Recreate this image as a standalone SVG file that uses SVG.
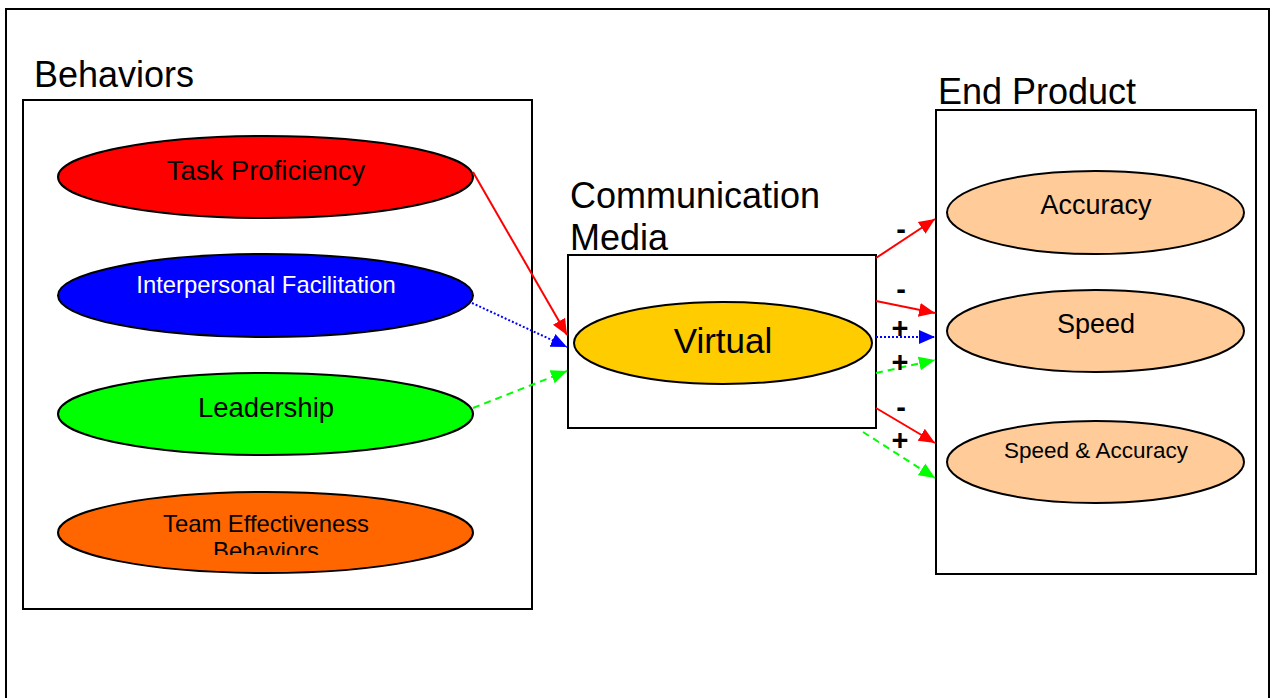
<svg xmlns="http://www.w3.org/2000/svg" width="1273" height="698" viewBox="0 0 1273 698">
<style>
text{font-family:"Liberation Sans",Arial,sans-serif;fill:#000}
.box{fill:#fff;stroke:#000;stroke-width:2}
.el{stroke:#000;stroke-width:2}
.head{font-size:36px}
.c{text-anchor:middle}
.sign{font-size:29px;font-weight:bold;text-anchor:middle}
.red{stroke:#ff0000;stroke-width:2;fill:none}
.blue{stroke:#0000ff;stroke-width:2;fill:none;stroke-dasharray:2 2}
.green{stroke:#00ff00;stroke-width:2;fill:none;stroke-dasharray:7 5}
</style>
<defs>
<marker id="ab" viewBox="0 0 16 16" refX="16" refY="8" markerWidth="16" markerHeight="16" markerUnits="userSpaceOnUse" orient="auto"><path d="M0,1 L16,8 L0,15 z" fill="#0000ff"/></marker>
<marker id="ag" viewBox="0 0 16 16" refX="16" refY="8" markerWidth="16" markerHeight="16" markerUnits="userSpaceOnUse" orient="auto"><path d="M0,1 L16,8 L0,15 z" fill="#00ff00"/></marker>
<marker id="ar2" viewBox="0 0 16 16" refX="16" refY="8" markerWidth="16" markerHeight="16" markerUnits="userSpaceOnUse" orient="auto"><path d="M0,1 L16,8 L0,15 z" fill="#ff0000"/></marker>
<clipPath id="teclip"><rect x="50" y="480" width="440" height="75"/></clipPath>
</defs>
<rect width="1273" height="698" fill="#fff"/>
<path d="M6,700 V9 H1269 V700" fill="none" stroke="#000" stroke-width="2"/>

<g id="behaviors">
<text class="head" x="34" y="87">Behaviors</text>
<rect class="box" x="23" y="100" width="509" height="509"/>
</g>
<g id="task-proficiency">
<ellipse class="el" cx="265.5" cy="177" rx="207.5" ry="41" fill="#ff0000"/>
<text class="c" x="266" y="180" font-size="27.5">Task Proficiency</text>
</g>
<g id="interpersonal-facilitation">
<ellipse class="el" cx="265.5" cy="295.5" rx="207.5" ry="41.5" fill="#0000ff"/>
<text class="c" x="266" y="293" font-size="23.8" style="fill:#fff">Interpersonal Facilitation</text>
</g>
<g id="leadership">
<ellipse class="el" cx="265.5" cy="414" rx="207.5" ry="41" fill="#00ff00"/>
<text class="c" x="266" y="417" font-size="27.5">Leadership</text>
</g>
<g id="team-effectiveness">
<ellipse class="el" cx="265.5" cy="532.5" rx="207.5" ry="40.5" fill="#ff6600"/>
<g clip-path="url(#teclip)">
<text class="c" x="266" y="532" font-size="23.8">Team Effectiveness</text>
<text class="c" x="266" y="559" font-size="23.8">Behaviors</text>
</g>
</g>

<g id="communication-media">
<text class="head" x="570" y="208">Communication</text>
<text class="head" x="570" y="250">Media</text>
<rect class="box" x="568" y="255" width="308" height="173"/>
</g>
<g id="virtual">
<ellipse class="el" cx="723" cy="343" rx="149" ry="41" fill="#ffcc00"/>
<text class="c" x="723" y="353" font-size="35">Virtual</text>
</g>

<g id="end-product">
<text class="head" x="938" y="104">End Product</text>
<rect class="box" x="936" y="110" width="320" height="464"/>
</g>
<g id="accuracy">
<ellipse class="el" cx="1095.5" cy="212.5" rx="148.5" ry="41.5" fill="#ffcc99"/>
<text class="c" x="1096" y="214" font-size="27">Accuracy</text>
</g>
<g id="speed">
<ellipse class="el" cx="1095.5" cy="331" rx="148.5" ry="41" fill="#ffcc99"/>
<text class="c" x="1096" y="333" font-size="27">Speed</text>
</g>
<g id="speed-accuracy">
<ellipse class="el" cx="1095.5" cy="462" rx="148.5" ry="41" fill="#ffcc99"/>
<text class="c" x="1096" y="458" font-size="22.5">Speed &amp; Accuracy</text>
</g>

<g id="connectors">
<line class="red" x1="473" y1="172" x2="567" y2="335" marker-end="url(#ar2)"/>
<line class="blue" x1="472" y1="303" x2="567" y2="347" marker-end="url(#ab)"/>
<line class="green" x1="473" y1="408" x2="567" y2="371" marker-end="url(#ag)"/>
<line class="red" x1="876" y1="258" x2="935" y2="219" marker-end="url(#ar2)"/>
<line class="red" x1="876" y1="301" x2="935" y2="313" marker-end="url(#ar2)"/>
<line class="blue" x1="876" y1="337" x2="935" y2="337" marker-end="url(#ab)"/>
<line class="green" x1="876" y1="373" x2="935" y2="360" marker-end="url(#ag)"/>
<line class="red" x1="876" y1="408" x2="935" y2="443" marker-end="url(#ar2)"/>
<line class="green" x1="863" y1="432" x2="935" y2="478" marker-end="url(#ag)"/>
<text class="sign" x="901" y="239">-</text>
<text class="sign" x="901" y="299">-</text>
<text class="sign" x="900" y="338">+</text>
<text class="sign" x="900" y="372">+</text>
<text class="sign" x="901" y="417">-</text>
<text class="sign" x="900" y="450">+</text>
</g>
</svg>
